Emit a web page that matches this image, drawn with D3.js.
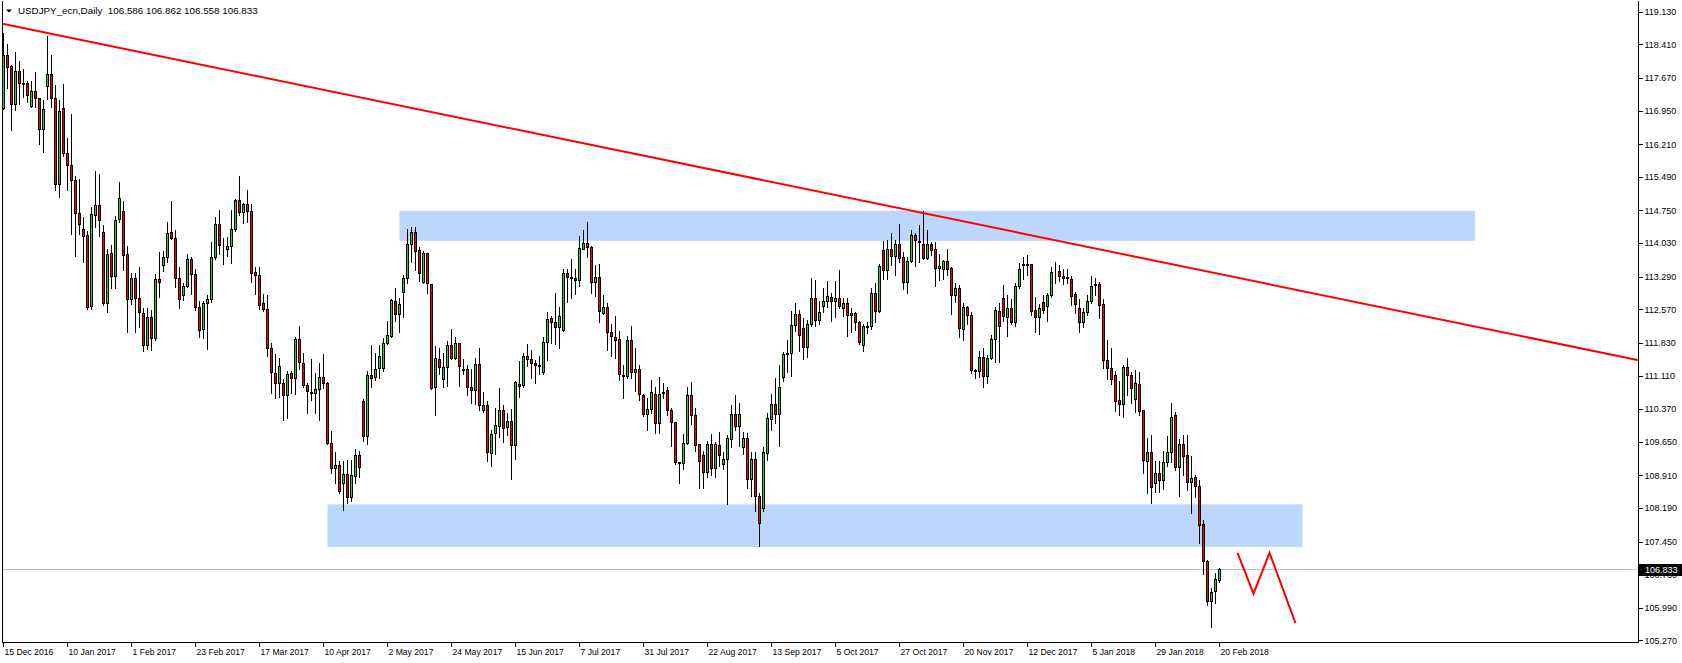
<!DOCTYPE html>
<html><head><meta charset="utf-8">
<script src="https://cdn.jsdelivr.net/npm/d3@7"></script>
<style>html,body{margin:0;padding:0;background:#fff;overflow:hidden}</style>
</head><body><svg id="c" width="1682" height="663"></svg>
<script>
// ---- data (USDJPY_ecn Daily) ----
const opens=[117.00,118.17,117.93,117.09,117.81,117.55,117.54,117.04,117.38,117.22,116.53,117.48,117.74,117.22,115.32,117.00,116.01,115.74,115.42,114.69,
114.34,114.19,112.63,114.63,114.86,114.27,112.70,113.79,113.29,114.55,114.73,113.77,112.79,113.25,112.80,112.48,111.78,112.39,111.93,113.23,
113.53,113.72,114.27,114.13,113.24,112.88,113.08,113.67,113.33,112.61,112.13,112.70,112.79,113.72,114.43,113.89,113.89,113.96,114.32,114.96,
114.71,114.89,114.73,113.39,113.32,112.70,112.57,111.71,111.16,110.94,110.94,110.67,111.16,111.05,111.91,111.38,110.90,110.73,110.72,110.81,
111.07,110.94,109.62,109.05,109.12,108.72,108.92,108.42,108.88,109.34,110.53,109.76,111.10,111.07,111.27,111.27,111.82,111.98,112.75,112.46,
112.94,113.25,113.99,114.27,113.87,113.16,113.79,113.12,110.85,111.47,111.03,111.29,111.78,111.49,111.82,111.25,111.25,110.85,110.79,111.36,
110.34,110.46,109.39,109.83,109.98,110.33,109.96,110.09,109.56,110.91,110.88,111.54,111.47,111.38,111.34,111.17,111.84,112.36,112.28,112.17,
112.11,113.36,113.27,113.25,113.20,113.89,114.02,113.94,113.16,113.27,112.48,112.61,112.06,111.95,111.91,111.12,111.08,111.89,111.17,111.25,
110.68,110.25,110.36,110.69,110.06,110.72,110.77,110.35,110.08,109.20,109.17,109.61,110.66,110.22,109.60,109.34,108.97,109.59,109.06,109.57,
109.14,109.25,109.70,110.24,109.98,109.53,109.73,108.82,109.25,108.45,108.18,109.39,110.14,110.48,110.24,111.06,111.58,111.60,112.22,112.46,
112.15,111.72,112.24,112.81,112.32,112.63,112.75,112.83,112.74,112.81,112.58,112.69,112.44,112.48,112.28,111.77,112.18,112.19,112.92,112.52,
113.86,113.42,113.89,113.73,113.99,113.72,113.16,113.63,114.19,114.07,114.00,113.69,113.99,113.88,113.47,113.44,113.63,113.46,112.87,113.03,
112.13,112.61,112.43,111.23,111.19,111.51,111.08,111.49,111.91,112.53,112.80,112.39,112.59,112.28,113.08,113.55,113.55,113.55,112.55,112.39,
112.72,112.64,112.88,113.39,113.40,113.30,113.25,113.22,112.89,112.59,112.28,112.50,112.75,113.11,113.11,112.67,111.45,111.27,111.10,110.55,
110.47,111.29,111.10,110.59,110.92,110.33,109.21,109.42,108.72,108.95,108.79,109.20,109.42,110.22,109.08,109.58,109.34,108.75,108.87,108.67,
107.83,107.02,106.12,106.34,106.586];
const highs=[118.66,118.41,117.96,118.24,118.05,117.87,117.60,117.60,117.80,117.22,117.19,118.60,118.18,117.52,117.19,117.54,116.35,116.88,115.51,115.44,
114.61,114.30,114.83,115.63,115.55,114.43,113.90,113.99,114.63,115.38,114.96,113.97,113.36,113.36,113.50,112.59,112.59,112.55,113.34,113.84,
113.86,114.50,114.96,114.32,113.50,113.16,113.79,113.72,113.46,112.76,112.76,112.89,114.06,114.61,114.76,114.14,114.17,114.76,115.00,115.52,
114.92,115.20,114.89,113.50,113.50,112.91,112.89,111.82,111.58,111.50,111.03,111.22,111.22,111.97,112.20,111.60,110.94,111.48,111.16,111.38,
111.59,110.96,109.89,109.42,109.23,109.23,109.25,109.25,109.50,109.45,110.59,111.21,111.78,111.60,111.78,111.93,112.32,112.80,113.05,112.83,
113.33,114.33,114.38,114.38,113.95,113.86,113.79,113.13,111.76,111.71,111.61,111.87,112.14,111.97,111.83,111.47,111.34,111.25,111.49,111.72,
110.75,110.55,109.91,110.39,110.84,110.46,110.28,110.37,111.00,111.43,111.60,111.81,111.67,111.45,111.53,111.97,112.50,112.42,112.94,112.63,
113.47,113.45,113.69,113.47,114.19,114.32,114.49,113.97,113.55,113.58,112.89,112.70,112.25,112.42,112.09,111.34,111.98,112.20,111.72,111.34,
110.70,110.61,111.01,110.85,111.07,110.95,110.85,110.39,110.08,109.21,109.82,110.86,110.97,110.39,109.61,109.45,109.67,109.83,109.65,109.86,
109.42,109.80,110.46,110.68,110.50,109.86,109.85,109.42,109.42,108.53,109.53,110.28,110.70,111.05,111.34,111.62,111.89,112.53,112.72,112.55,
112.37,112.33,113.25,113.22,112.75,113.05,113.19,112.94,113.19,113.44,112.83,112.83,112.59,112.52,112.32,112.25,112.30,113.05,113.14,113.56,
114.08,114.10,114.26,114.10,114.45,113.83,113.73,114.32,114.25,114.43,114.74,114.32,114.05,114.06,113.80,113.66,113.91,113.50,113.14,113.11,
112.70,112.64,112.50,111.25,111.64,111.71,111.56,112.00,112.63,112.72,113.11,112.89,112.80,113.14,113.60,113.72,113.77,113.55,112.85,112.69,
112.89,112.92,113.51,113.62,113.55,113.45,113.45,113.30,112.96,112.79,112.61,112.89,113.30,113.25,113.18,112.79,111.89,111.71,111.22,111.00,
111.34,111.49,111.19,111.23,111.18,110.35,109.73,109.80,109.23,109.23,109.45,109.78,110.50,110.30,109.70,109.80,109.80,109.34,108.92,108.81,
107.92,107.04,106.42,106.75,106.862];
const lows=[116.98,117.46,116.52,116.96,117.09,117.26,117.15,117.02,117.04,116.22,116.03,117.21,117.04,115.20,115.05,115.94,115.19,114.24,113.75,114.22,
113.62,112.58,112.58,114.38,114.19,112.66,112.52,113.05,113.05,114.49,113.44,112.08,112.68,112.08,112.19,111.65,111.70,111.68,111.89,112.85,
113.41,113.62,114.12,113.07,112.61,112.78,113.07,112.91,112.56,111.95,111.93,111.70,112.74,113.69,113.80,113.56,113.75,113.60,114.30,114.66,
114.48,114.50,113.18,112.90,112.57,112.53,111.55,110.73,110.62,110.63,110.12,110.18,110.72,110.70,111.25,110.86,110.28,110.57,110.29,110.14,
110.83,109.60,108.95,108.73,108.51,108.15,108.30,108.35,108.73,108.88,109.67,109.61,110.86,111.01,111.05,111.22,111.80,111.95,112.31,112.08,
112.39,113.14,113.62,113.44,113.20,113.14,112.94,110.81,110.25,111.14,110.86,110.88,111.47,111.47,110.89,111.14,110.67,110.50,110.48,110.34,
110.31,109.23,109.12,109.39,109.76,109.64,109.80,108.82,109.28,110.64,110.85,111.31,111.06,110.95,111.14,111.14,111.45,111.83,111.80,111.72,
112.10,112.74,112.83,112.90,113.09,113.89,113.72,112.92,112.86,112.28,112.46,111.67,111.55,111.49,111.01,110.62,111.05,111.05,110.78,110.56,
110.22,109.92,110.28,109.85,109.85,110.62,110.25,109.56,109.17,108.75,109.06,109.60,110.04,109.45,108.62,108.64,108.87,108.92,108.87,109.12,
109.04,108.28,109.54,109.91,109.56,109.39,108.64,108.45,108.13,107.35,108.13,109.25,109.92,110.07,109.56,110.99,111.19,111.11,112.10,111.66,
111.48,111.51,112.20,112.20,112.24,112.52,112.63,112.32,112.41,112.61,112.43,111.99,112.08,112.11,111.80,111.66,112.04,112.14,112.30,112.50,
113.24,113.24,113.55,113.33,113.62,113.02,112.94,113.61,113.53,113.62,113.68,113.68,113.77,113.08,113.22,113.24,113.33,112.47,112.74,111.95,
111.89,112.25,111.16,111.06,111.08,110.85,110.94,111.47,111.41,111.41,112.32,111.99,112.25,112.21,113.05,113.24,113.33,112.44,112.06,112.03,
112.48,112.31,112.85,113.15,113.20,113.13,113.14,112.67,112.48,112.06,112.17,112.45,112.72,112.89,112.37,111.27,111.03,110.92,110.33,110.24,
110.20,110.68,110.50,110.31,110.24,108.97,108.51,108.29,108.54,108.54,108.60,109.12,109.21,109.03,108.46,108.92,108.59,108.07,108.44,107.42,
106.73,106.05,105.57,106.10,106.558];
const closes=[118.16,117.91,117.09,117.81,117.55,117.52,117.28,117.38,117.22,116.53,116.98,117.74,117.21,115.32,116.94,116.00,115.74,115.41,114.68,114.43,
114.17,112.61,114.65,114.86,114.52,112.69,113.77,113.29,114.52,115.02,113.76,112.79,113.25,112.80,112.50,111.78,112.39,111.93,113.23,113.16,
113.72,114.25,114.13,113.25,112.78,113.08,113.67,113.33,112.61,112.11,112.70,112.79,113.72,114.43,113.97,113.88,113.96,114.32,114.96,114.71,
114.89,114.73,113.36,113.31,112.65,112.56,111.71,111.18,110.94,111.31,110.67,111.14,111.05,111.91,111.40,110.89,110.75,110.72,110.81,111.07,
110.94,109.62,109.05,109.12,108.56,108.92,108.42,108.90,109.34,109.09,109.76,111.10,111.05,111.25,111.54,111.82,112.00,112.76,112.46,112.68,
113.25,113.99,114.27,113.84,113.35,113.79,113.13,110.83,111.49,111.29,111.29,111.78,111.49,111.82,111.32,111.22,110.85,110.78,111.36,110.44,
110.46,109.42,109.81,110.00,110.35,109.95,110.09,109.56,110.95,110.86,111.54,111.47,111.38,111.33,111.31,111.84,112.35,112.28,112.17,112.42,
113.36,113.27,113.26,113.20,113.91,114.02,113.93,113.16,113.27,112.52,112.61,112.06,111.97,111.89,111.14,111.08,111.89,111.17,111.25,110.70,
110.25,110.36,110.74,110.06,110.70,110.74,110.35,110.07,109.19,109.16,109.61,110.68,110.22,109.56,109.21,108.97,109.58,109.06,109.58,109.34,
109.25,109.73,110.24,109.98,110.25,109.73,108.82,109.25,108.44,107.85,109.42,110.17,110.48,110.25,110.85,111.58,111.60,112.22,112.46,111.99,
111.73,112.24,112.81,112.32,112.50,112.75,112.86,112.74,112.81,112.63,112.69,112.43,112.48,112.28,111.83,112.20,112.19,112.92,112.53,113.51,
113.42,113.89,113.73,113.99,113.69,113.16,113.63,114.19,114.08,114.05,113.69,113.99,113.86,113.47,113.51,113.63,113.45,112.87,113.03,112.15,
112.61,112.43,111.22,111.21,111.51,111.08,111.49,111.91,112.55,112.19,112.41,112.59,112.28,113.08,113.45,113.54,113.54,112.52,112.39,112.59,
112.54,112.88,113.39,113.38,113.30,113.25,113.28,112.86,112.68,112.28,112.50,112.75,113.08,113.10,112.65,111.44,111.27,111.03,110.53,110.47,
111.29,111.11,110.83,110.94,110.31,109.23,109.42,108.64,108.95,108.79,109.20,109.42,110.18,109.08,109.58,109.32,108.75,108.83,108.66,107.81,
107.01,106.12,106.33,106.62,106.833];
const dateTickBars=[0,16,32,48,64,80,96,112,128,144,160,176,192,208,224,240,256,272,288,304];
const dateTickLabels=["15 Dec 2016","10 Jan 2017","1 Feb 2017","23 Feb 2017","17 Mar 2017","10 Apr 2017","2 May 2017","24 May 2017","15 Jun 2017","7 Jul 2017",
"31 Jul 2017","22 Aug 2017","13 Sep 2017","5 Oct 2017","27 Oct 2017","20 Nov 2017","12 Dec 2017","5 Jan 2018","29 Jan 2018","20 Feb 2018"];
const priceTicks=[119.13,118.41,117.67,116.95,116.21,115.49,114.75,114.03,113.29,112.57,111.83,111.11,110.37,109.65,108.91,108.19,107.45,106.73,105.99,105.27];
const title="USDJPY_ecn,Daily  106.586 106.862 106.558 106.833";
const lastPrice=106.833;
// trend line anchors [bar, price]
const trendBars=[0,230], trendPrices=[118.86,114.69];
// zones [barFrom, barTo] and [priceTop, priceBottom]
const zoneBars=[[99,367.9],[81,324.75]];
const zonePrices=[[114.74,114.08],[108.27,107.33]];
// projected path
const pathBars=[308.5,312.5,316.5,323];
const pathPrices=[107.2,106.3,107.2,105.65];

// ---- drawing ----
const W=1682,H=663, plotL=2.5, plotR=1638.5, plotT=0.5, plotB=642.5;
const svg=d3.select("#c");
const font="'Liberation Sans', Arial, sans-serif";
const x=d3.scaleLinear().domain([0,1]).range([3.5,7.5]);
const y=d3.scaleLinear().domain([105.27,119.13]).range([640.4,11.8]);
const snap=v=>Math.round(v-0.5)+0.5;

svg.append("rect").attr("width",W).attr("height",H).attr("fill","#fff");
svg.append("clipPath").attr("id","pc").append("rect")
  .attr("x",plotL).attr("y",plotT).attr("width",plotR-plotL).attr("height",plotB-plotT);
const g=svg.append("g").attr("clip-path","url(#pc)");

// zones
zoneBars.forEach((b,k)=>{
  g.append("rect").attr("x",x(b[0])).attr("y",y(zonePrices[k][0]))
   .attr("width",x(b[1])-x(b[0])).attr("height",y(zonePrices[k][1])-y(zonePrices[k][0]))
   .attr("fill","#BDD6FB");
});
// last price line
g.append("line").attr("x1",plotL).attr("x2",plotR).attr("y1",snap(y(lastPrice))).attr("y2",snap(y(lastPrice)))
 .attr("stroke","#C0C0C0").attr("stroke-width",1).attr("shape-rendering","crispEdges");

// candles
const idx=d3.range(opens.length);
const cg=g.append("g").attr("shape-rendering","crispEdges");
cg.selectAll("line.w").data(idx).join("line").attr("class","w")
  .attr("x1",i=>x(i)).attr("x2",i=>x(i))
  .attr("y1",i=>Math.round(y(highs[i]))).attr("y2",i=>Math.round(y(lows[i]))+1)
  .attr("stroke","#000").attr("stroke-width",1);
cg.selectAll("rect.b").data(idx).join("rect").attr("class","b")
  .attr("x",i=>x(i)-1)
  .attr("y",i=>snap(y(Math.max(opens[i],closes[i]))))
  .attr("width",2)
  .attr("height",i=>Math.max(0,snap(y(Math.min(opens[i],closes[i])))-snap(y(Math.max(opens[i],closes[i])))))
  .attr("fill",i=>closes[i]>=opens[i]?"#32CD32":"#FF0000")
  .attr("stroke","#000").attr("stroke-width",1);

// trend line (extended to the chart edges)
const slope=(trendPrices[1]-trendPrices[0])/(trendBars[1]-trendBars[0]);
const bx0=x.invert(plotL), bx1=x.invert(plotR);
g.append("line").attr("x1",x(bx0)).attr("y1",y(trendPrices[0]+slope*(bx0-trendBars[0])))
 .attr("x2",x(bx1)).attr("y2",y(trendPrices[0]+slope*(bx1-trendBars[0])))
 .attr("stroke","#FF0000").attr("stroke-width",2);

// projected zigzag
g.append("path").attr("d",d3.line().x((d,k)=>x(pathBars[k])).y((d,k)=>y(pathPrices[k]))(pathBars))
 .attr("fill","none").attr("stroke","#FF0000").attr("stroke-width",2);

// frame
svg.append("path").attr("d",`M${plotL},${plotT}V${plotB}H${plotR}V${plotT}`)
 .attr("fill","none").attr("stroke","#000").attr("stroke-width",1).attr("shape-rendering","crispEdges");

// right price axis
const ya=svg.append("g").attr("transform",`translate(${plotR},0)`)
 .call(d3.axisRight(y).tickValues(priceTicks).tickFormat(d3.format(".3f")).tickSize(4).tickPadding(2));
ya.select(".domain").remove();
ya.selectAll("line").attr("stroke","#000").attr("shape-rendering","crispEdges");
ya.selectAll("text").attr("font-family",font).attr("font-size","9px").attr("fill","#000");

// last price box (drawn over the axis, as in the original)
const ly=y(lastPrice);
svg.append("rect").attr("x",plotR+0.5).attr("y",Math.round(ly)-6).attr("width",W-plotR).attr("height",12).attr("fill","#000");
svg.append("text").attr("x",plotR+6.5).attr("y",ly).attr("dy","0.35em").text(d3.format(".3f")(lastPrice))
 .attr("font-family",font).attr("font-size","9px").attr("fill","#fff");

// bottom date axis
const xa=svg.append("g").attr("transform",`translate(0,${plotB})`);
xa.selectAll("line").data(dateTickBars).join("line")
 .attr("x1",d=>x(d)).attr("x2",d=>x(d)).attr("y1",0).attr("y2",4)
 .attr("stroke","#000").attr("shape-rendering","crispEdges");
xa.selectAll("text").data(dateTickBars).join("text")
 .attr("x",d=>x(d)+1).attr("y",12).text((d,k)=>dateTickLabels[k])
 .attr("font-family",font).attr("font-size","8.6px").attr("fill","#000");

// title
svg.append("path").attr("d","M6,9.5H12L9,12.5Z").attr("fill","#000");
svg.append("text").attr("x",18).attr("y",14).text(title).attr("xml:space","preserve")
 .style("white-space","pre").attr("font-family",font).attr("font-size","9.8px").attr("fill","#000");
</script></body></html>
